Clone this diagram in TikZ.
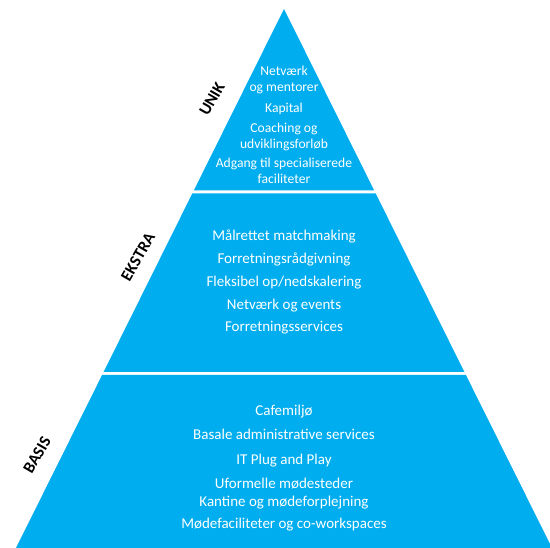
\documentclass[tikz,border=0pt]{standalone}
\usepackage{fontspec}
\setmainfont{Carlito}
\definecolor{pyrblue}{HTML}{00ADEF}
\begin{document}
\begin{tikzpicture}[x=1pt,y=-1pt,
  tier/.style={fill=pyrblue,draw=none},
  itemtxt/.style={text=white,font=\fontsize{15}{18}\selectfont,align=center,anchor=base,inner sep=0pt},
  topitem/.style={text=white,font=\fontsize{13.6}{16}\selectfont,align=center,anchor=base,inner sep=0pt},
  lvl/.style={text=black,font=\bfseries\fontsize{16.5}{18}\selectfont,rotate=60,inner sep=0pt}]
\useasboundingbox (0,0) rectangle (550,548);
\begin{scope}
\clip (0,0) rectangle (550,548);
\fill[tier] (284,9) -- (374.2,190.5) -- (193.8,190.5) -- cycle;
\fill[tier] (192.3,193.5) -- (375.7,193.5) -- (464.4,372) -- (103.6,372) -- cycle;
\fill[tier] (102.1,375) -- (465.9,375) -- (552,548) -- (16,548) -- cycle;
\end{scope}
% top tier (base = baseline of last line)
\node[topitem] (t1) at (284,92) {Netværk\\og mentorer};
\node[topitem] (t2) at (284,112.5) {Kapital};
\node[topitem] (t3) at (284,148.5) {Coaching og\\udviklingsforløb};
\node[topitem] (t4) at (284,183.5) {Adgang til specialiserede\\faciliteter};
% middle tier
\node[itemtxt] (m1) at (284,240.5) {Målrettet matchmaking};
\node[itemtxt] (m2) at (284,263.5) {Forretningsrådgivning};
\node[itemtxt] (m3) at (284,286.5) {Fleksibel op/nedskalering};
\node[itemtxt] (m4) at (284,309.5) {Netværk og events};
\node[itemtxt] (m5) at (284,331.5) {Forretningsservices};
% bottom tier
\node[itemtxt] (b1) at (284,415.5) {Cafemiljø};
\node[itemtxt] (b2) at (284,439.5) {Basale administrative services};
\node[itemtxt] (b3) at (284,464.5) {IT Plug and Play};
\node[itemtxt] (b4) at (284,488.5) {Uformelle mødesteder};
\node[itemtxt] (b5) at (284,506.5) {Kantine og mødeforplejning};
\node[itemtxt] (b6) at (284,528.5) {Mødefaciliteter og co-workspaces};
% level labels
\node[lvl] (lu) at (212,99) {UNIK};
\node[lvl] (le) at (138,257) {EKSTRA};
\node[lvl] (lb) at (37,455) {BASIS};
\end{tikzpicture}
\end{document}
